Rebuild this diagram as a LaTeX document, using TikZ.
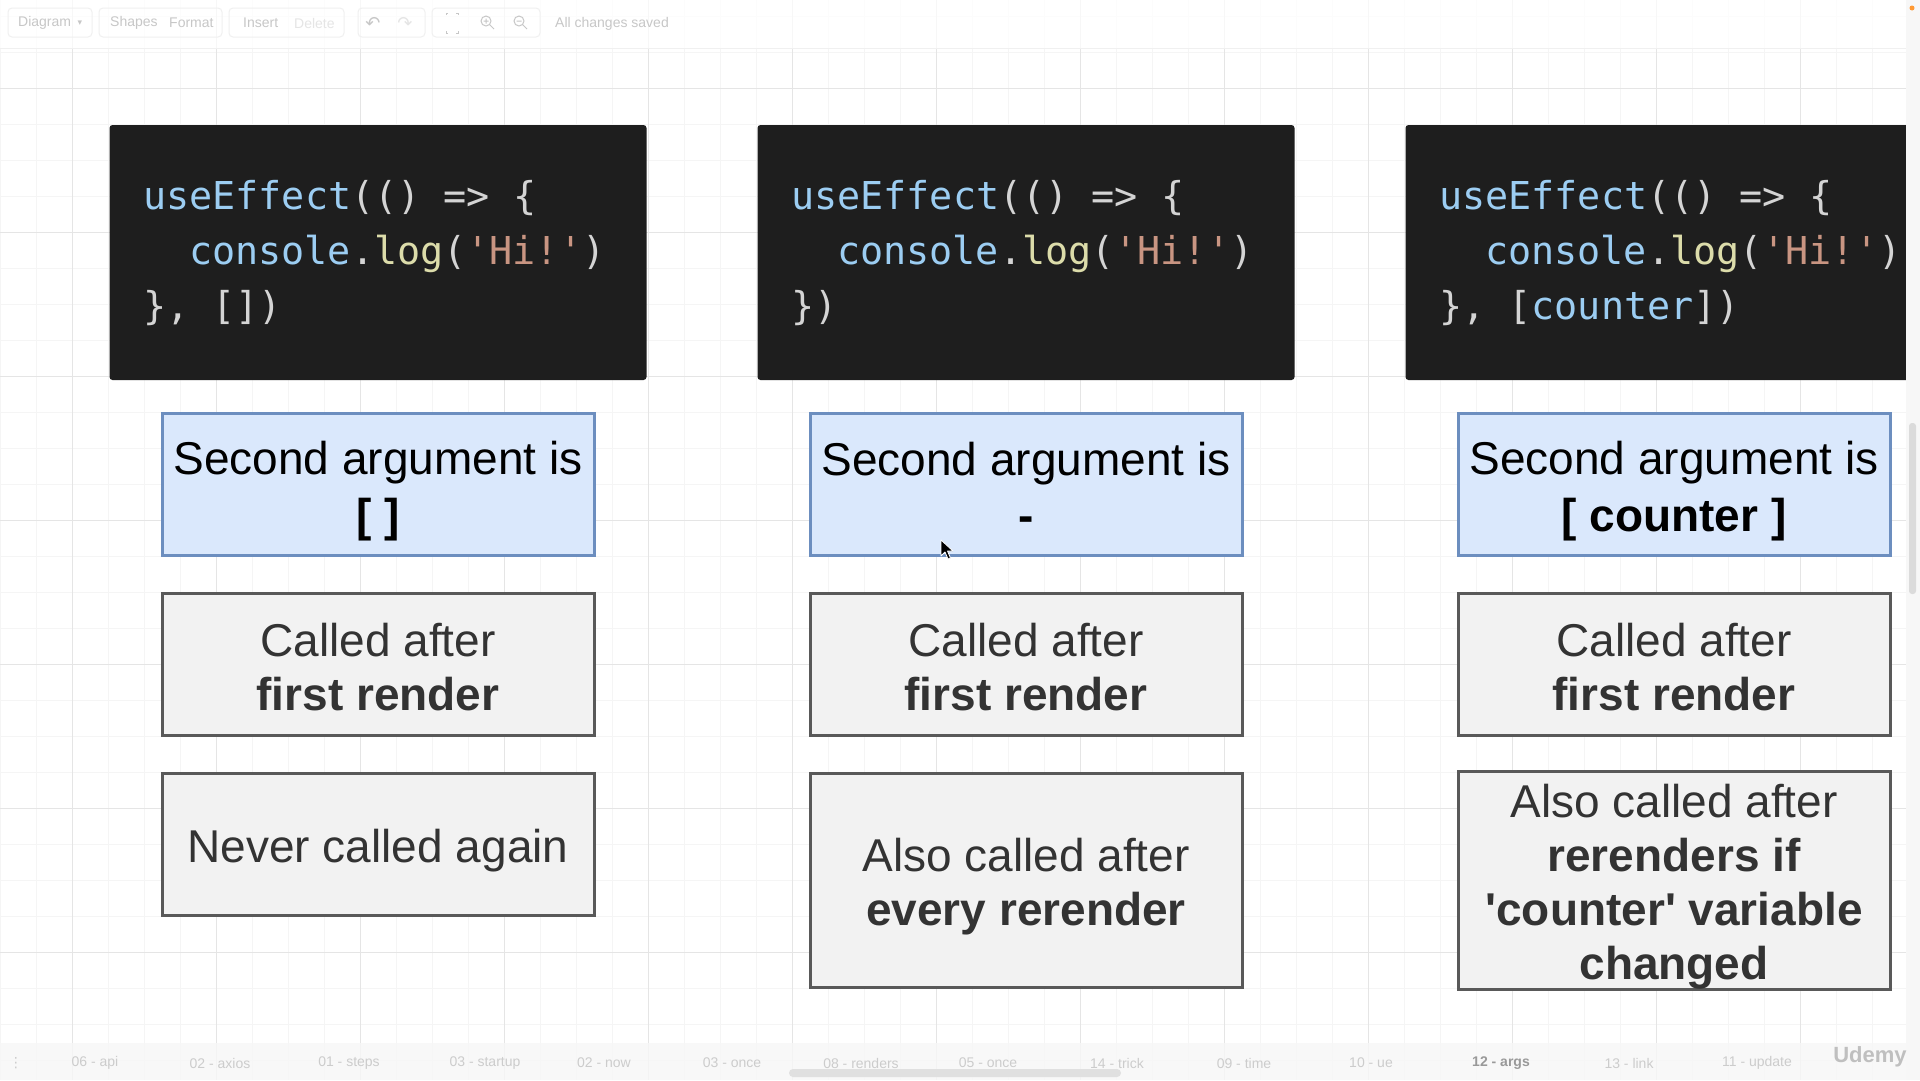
\documentclass[tikz,border=0pt]{standalone}
\usepackage{fontspec}
\setmainfont{Liberation Sans}
\setsansfont{Liberation Sans}
\newfontfamily\codefont{DejaVu Sans Mono}
\newfontfamily\symfont{DejaVu Sans}
\usetikzlibrary{positioning}
\definecolor{codebg}{HTML}{1E1E1E}
\definecolor{codeblue}{HTML}{9CCDF2}
\definecolor{codegray}{HTML}{D4D4D4}
\definecolor{codeyellow}{HTML}{DCDCAA}
\definecolor{codeorange}{HTML}{C99582}
\definecolor{argfill}{HTML}{DAE8FC}
\definecolor{argline}{HTML}{6C8EBF}
\definecolor{callfill}{HTML}{F2F2F2}
\definecolor{callline}{HTML}{595959}
\definecolor{calltext}{HTML}{333333}
\tikzset{
  gridminor/.style={draw=black!4, line width=1pt},
  gridmajor/.style={draw=black!10, line width=1pt},
  codebox/.style={fill=codebg, rounded corners=3pt, inner sep=0, minimum width=537pt, minimum height=255pt},
  codeline/.style={anchor=base west, inner sep=0, text=codegray, font=\codefont\fontsize{38.4}{45}\selectfont},
  argbox/.style={draw=argline, fill=argfill, line width=3pt, inner sep=0, minimum width=432pt, minimum height=142pt, align=center, font=\fontsize{46}{54}\selectfont},
  callbox/.style={argbox, draw=callline, fill=callfill, text=calltext},
  barlabel/.style={inner sep=0, text=black!22, font=\fontsize{14}{16}\selectfont},
  tablabel/.style={inner sep=0, text=black!20, font=\fontsize{14}{16}\selectfont},
  barbutton/.style={draw=black!6, rounded corners=4pt, line width=1pt}
}
\newcommand{\cb}[1]{\textcolor{codeblue}{#1}}
\newcommand{\cy}[1]{\textcolor{codeyellow}{#1}}
\newcommand{\co}[1]{\textcolor{codeorange}{#1}}
\newcommand{\q}{\textquotesingle}
% one line of box text, 54pt high
\newcommand{\ls}{\rule[-8pt]{0pt}{54pt}}
\begin{document}
\begin{tikzpicture}[x=1pt, y=-1pt]
  \useasboundingbox (0,0) rectangle (1920,1080);
  \fill[white] (0,0) rectangle (1920,1080);
  % grid
  \foreach \gx in {0,36,...,1900} \draw[gridminor] (\gx,0) -- (\gx,1080);
  \foreach \gy in {16,52,...,1080} \draw[gridminor] (0,\gy) -- (1906,\gy);
  \foreach \gx in {72,216,...,1800} \draw[gridmajor] (\gx,0) -- (\gx,1080);
  \foreach \gy in {88,232,...,952} \draw[gridmajor] (0,\gy) -- (1906,\gy);

  % code blocks
  \node (code1) at (378,252.5) [codebox] {};
  \node (code2) at (1026,252.5) [codebox] {};
  \node (code3) at (1674,252.5) [codebox] {};
  \node (code1a) at (143,209) [codeline] {\cb{useEffect}(() => \{};
  \node (code1b) at (189,264) [codeline] {\cb{console}.\cy{log}(\co{\q Hi!\q})};
  \node (code1c) at (143,319) [codeline] {\}, [])};
  \node (code2a) at (791,209) [codeline] {\cb{useEffect}(() => \{};
  \node (code2b) at (837,264) [codeline] {\cb{console}.\cy{log}(\co{\q Hi!\q})};
  \node (code2c) at (791,319) [codeline] {\})};
  \node (code3a) at (1439,209) [codeline] {\cb{useEffect}(() => \{};
  \node (code3b) at (1485,264) [codeline] {\cb{console}.\cy{log}(\co{\q Hi!\q})};
  \node (code3c) at (1439,319) [codeline] {\}, [\cb{counter}])};

  % second argument
  \node (arg1) at (378,484.5) [argbox] {\ls Second argument is\\\ls\textbf{[ ]}};
  \node (arg2) at (1026,484.5) [argbox] {\ls Second argument is\\\ls\textbf{-}};
  \node (arg3) at (1674,484.5) [argbox] {\ls Second argument is\\\ls\textbf{[ counter ]}};

  % first render
  \node (first1) at (378,664.5) [callbox] {\ls Called after\\\ls\textbf{first render}};
  \node (first2) at (1026,664.5) [callbox] {\ls Called after\\\ls\textbf{first render}};
  \node (first3) at (1674,664.5) [callbox] {\ls Called after\\\ls\textbf{first render}};

  % later renders
  \node (again1) at (378,844.5) [callbox] {\ls Never called again};
  \node (again2) at (1026,880.5) [callbox, minimum height=214pt] {\ls Also called after\\\ls\textbf{every rerender}};
  \node (again3) at (1674,880.5) [callbox, minimum height=214pt] {\ls Also called after\\\ls\textbf{rerenders if}\\\ls\textbf{\q counter\q{} variable}\\\ls\textbf{changed}};

  % mouse pointer
  \draw[white, fill=black, line width=.8pt, line join=round] (941,540) -- (941,556) -- (945,552) -- (948,559) -- (950.5,558) -- (947.5,551) -- (953,551) -- cycle;

  % right strip and scrollbar
  \fill[black!3] (1906,0) rectangle (1920,1080);
  \fill[black!14, rounded corners=3pt] (1909,423) rectangle (1916,594);
  \fill[orange!80] (1912,8) circle (2.5pt);

  % toolbar
  \fill[white, opacity=.7] (0,0) rectangle (1906,48);
  \draw[black!6] (0,48) -- (1906,48);
  \draw[barbutton] (8,8) rectangle (92,37);
  \draw[barbutton] (99,8) rectangle (222,37);
  \draw[barbutton] (229,8) rectangle (344,37);
  \draw[barbutton] (358,8) rectangle (425,37);
  \draw[barbutton] (432,8) rectangle (540,37);
  \node (bar1) at (18,23) [barlabel, anchor=west] {Diagram};
  \node (bar2) at (80,23) [barlabel, font=\symfont\fontsize{9}{10}\selectfont] {▾};
  \node (bar3) at (110,23) [barlabel, anchor=west] {Shapes};
  \node (bar4) at (169,23) [barlabel, anchor=west] {Format};
  \node (bar5) at (243,23) [barlabel, anchor=west] {Insert};
  \node (bar6) at (294,23) [barlabel, anchor=west, text=black!10] {Delete};
  \node (bar7) at (373,23) [barlabel, font=\symfont\fontsize{18}{20}\selectfont] {↶};
  \node (bar8) at (405,23) [barlabel, text=black!10, font=\symfont\fontsize{18}{20}\selectfont] {↷};
  \draw[black!22, line width=1pt] (446,15) -- (446,13) -- (448,13) (456,13) -- (458,13) -- (458,15) (458,31) -- (458,33) -- (456,33) (448,33) -- (446,33) -- (446,31);
  \draw[black!22, line width=1pt] (486,21) circle (5pt) (489.5,24.5) -- (494,29) (483.5,21) -- (488.5,21) (486,18.5) -- (486,23.5);
  \draw[black!22, line width=1pt] (519,21) circle (5pt) (522.5,24.5) -- (527,29) (516.5,21) -- (521.5,21);
  \node (bar9) at (555,24) [barlabel, anchor=west] {All changes saved};

  % page tabs
  \fill[black!3, opacity=.8] (0,1043) rectangle (1906,1080);
  \node (tab1) at (95,1063) [tablabel] {06 - api};
  \node (tab2) at (220,1063) [tablabel] {02 - axios};
  \node (tab3) at (349,1063) [tablabel] {01 - steps};
  \node (tab4) at (485,1063) [tablabel] {03 - startup};
  \node (tab5) at (604,1063) [tablabel] {02 - now};
  \node (tab6) at (732,1063) [tablabel] {03 - once};
  \node (tab7) at (861,1063) [tablabel] {08 - renders};
  \node (tab8) at (988,1063) [tablabel] {05 - once};
  \node (tab9) at (1117,1063) [tablabel] {14 - trick};
  \node (tab10) at (1244,1063) [tablabel] {09 - time};
  \node (tab11) at (1371,1063) [tablabel] {10 - ue};
  \node (tab12) at (1501,1063) [tablabel, text=black!40, font=\bfseries\fontsize{14}{16}\selectfont] {12 - args};
  \node (tab13) at (1629,1063) [tablabel] {13 - link};
  \node (tab14) at (1757,1063) [tablabel] {11 - update};
  \node (tab0) at (16,1063) [tablabel, font=\symfont\fontsize{14}{16}\selectfont] {⋮};
  \fill[black!12, rounded corners=4pt] (789,1069) rectangle (1121,1077);
  \node (logo) at (1870,1057) [inner sep=0, text=black!25, font=\bfseries\fontsize{22}{24}\selectfont] {Udemy};
\end{tikzpicture}
\end{document}
